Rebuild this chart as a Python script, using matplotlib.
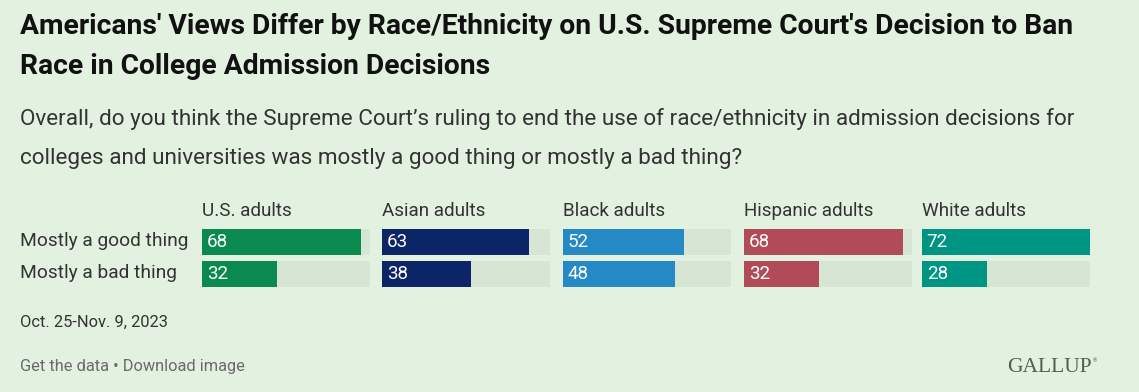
import matplotlib
matplotlib.use("Agg")
import matplotlib.pyplot as plt

groups = ["U.S. adults", "Asian adults", "Black adults", "Hispanic adults", "White adults"]
responses = ["Mostly a good thing", "Mostly a bad thing"]
good = [68, 63, 52, 68, 72]
bad = [32, 38, 48, 32, 28]
colors = ["#0a8a4f", "#0b2566", "#2589c5", "#b04b57", "#009483"]

title = ("Americans' Views Differ by Race/Ethnicity on U.S. Supreme Court's Decision to Ban\n"
         "Race in College Admission Decisions")
subtitle = ("Overall, do you think the Supreme Court’s ruling to end the use of race/ethnicity in admission decisions for\n"
            "colleges and universities was mostly a good thing or mostly a bad thing?")
date_note = "Oct. 25-Nov. 9, 2023"
footer = "Get the data • Download image"

BG = "#e3f1e1"
TRACK = "#d6e5d4"
W, H = 1139, 392
plt.rcParams['font.family'] = ['Roboto', 'DejaVu Sans']

fig = plt.figure(figsize=(W / 100, H / 100), dpi=100, facecolor=BG)

def fx(px):
    return px / W

def fy(py):
    return 1 - py / H

fig.text(fx(20), fy(26), title.split("\n")[0], fontsize=20.3, fontweight="bold", color="#111111", va="center", ha="left")
fig.text(fx(20), fy(67), title.split("\n")[1], fontsize=20.3, fontweight="bold", color="#111111", va="center", ha="left")
fig.text(fx(20), fy(119), subtitle.split("\n")[0], fontsize=16.2, color="#333333", va="center", ha="left")
fig.text(fx(20), fy(158), subtitle.split("\n")[1], fontsize=16.2, color="#333333", va="center", ha="left")

vmax = max(max(good), max(bad))
lefts = [202, 382, 563, 744, 922]
pw = 168
top_px, bot_px = 226, 290

for i, g in enumerate(groups):
    ax = fig.add_axes([fx(lefts[i]), fy(bot_px), fx(pw), (bot_px - top_px) / H])
    ax.set_facecolor("none")
    vals = [good[i], bad[i]]
    ypos = [0, 1]
    ax.barh(ypos, [vmax, vmax], height=0.84, color=TRACK, left=0)
    ax.barh(ypos, vals, height=0.84, color=colors[i])
    for y, v in zip(ypos, vals):
        ax.text(2.0, y, str(v), color="white", fontsize=13.5, va="center", ha="left")
    ax.set_xlim(0, vmax)
    ax.set_ylim(1.5, -0.5)
    ax.axis("off")
    fig.text(fx(lefts[i]), fy(211), g, fontsize=13.6, color="#333333", va="center", ha="left")

fig.text(fx(20), fy(241), responses[0], fontsize=13.8, color="#333333", va="center", ha="left")
fig.text(fx(20), fy(273), responses[1], fontsize=13.8, color="#333333", va="center", ha="left")

fig.text(fx(20), fy(322), date_note, fontsize=11.9, color="#333333", va="center", ha="left")
fig.text(fx(20), fy(367), footer, fontsize=11.8, color="#6a6a6a", va="center", ha="left")
fig.text(fx(1092), fy(367), "GALLUP", fontsize=15.5, color="#555a55", va="center", ha="right",
         family=["Liberation Serif", "DejaVu Serif"])
fig.text(fx(1093), fy(361), "®", fontsize=4, color="#555a55", va="center", ha="left")

fig.savefig("out.png", dpi=100, facecolor=BG)
